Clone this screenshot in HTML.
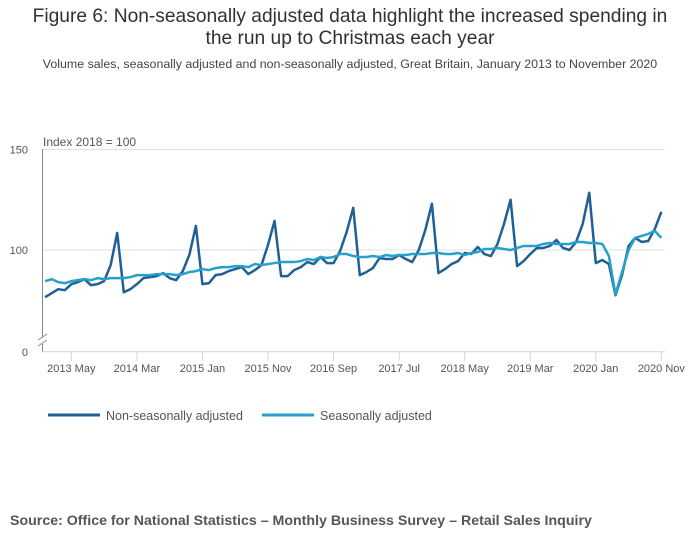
<!DOCTYPE html>
<html><head><meta charset="utf-8"><style>
body{margin:0;background:#fff;font-family:"Liberation Sans",sans-serif;}
#wrap{position:relative;width:700px;height:549px;overflow:hidden;}
.t{position:absolute;left:0;width:700px;text-align:center;color:#222;}
</style></head><body>
<div id="wrap">
<div class="t" style="top:6px;font-size:19.2px;line-height:22px;color:#323132;">Figure 6: Non-seasonally adjusted data highlight the increased spending in<br>the run up to Christmas each year</div>
<div class="t" style="top:57px;font-size:12.4px;color:#444;left:0;">Volume sales, seasonally adjusted and non-seasonally adjusted, Great Britain, January 2013 to November 2020</div>
<svg id="chart" width="700" height="549" style="position:absolute;left:0;top:0"></svg>
<div style="position:absolute;left:10px;top:513px;font-size:14.2px;font-weight:bold;color:#555;">Source: Office for National Statistics – Monthly Business Survey – Retail Sales Inquiry</div>
</div>
<script>
const yTicks=[150,100];
const xTickIdx=[4,14,24,34,44,54,64,74,84,94];
const xTickLabels=["2013 May","2014 Mar","2015 Jan","2015 Nov","2016 Sep","2017 Jul","2018 May","2019 Mar","2020 Jan","2020 Nov"];
const nsa=[76.5,78.5,80.5,80,83,84,85.5,82.5,83,84.5,92.5,108.5,
79,80.5,83,86,86.5,87,88.5,86,85,89.5,97.5,112,
83,83.5,87.5,88,89.5,90.5,91.5,88,90,92.5,102.5,114.5,
87,87,90,91.5,94,93,96.5,93.5,93.5,99.5,109,121,
87.5,89,91,96,95.5,95.5,97.5,95.5,94,100,110,123,
88.5,90.5,93,94.5,98.5,98,101.5,98,97,103,113,125,
92,94.5,98,101,101,102,105,101,100,104,113,128.5,
93.5,95,93,77.5,87.5,102,106,104,104.5,110.5,119];
const sa=[84.5,85.5,84,83.5,84.5,85,85.5,85,86,85.5,86,86,
86,86.5,87.5,87.5,87.5,88,88,88,87.5,88,89,89.5,
90.5,90,91,91.5,91.5,92,92,91.5,93,92.5,93,93.5,
94,94,94,94.5,95.5,95,96.5,96,96.5,98,98,97,
96.5,96.5,97,96.5,97.5,97,97.5,97.5,98,98,98,98.5,
98.5,98,98,98.5,97.5,98.5,99,100.5,100.5,101,100.5,100,
101,102,102,102,103,103.5,103,103,103,104,104,103.5,
103.5,103,97,78,89,100,106,107,108,109.5,106];
const NS='http://www.w3.org/2000/svg';
const svg=document.getElementById('chart');
const X=i=>45.1+i*6.556;
const Y=v=>250-(v-100)*2.01;
function mk(tag,attrs,parent){const e=document.createElementNS(NS,tag);for(const k in attrs)e.setAttribute(k,attrs[k]);(parent||svg).appendChild(e);return e;}
yTicks.forEach(v=>{
 const g=mk('line',{x1:42,x2:665,y1:Y(v),y2:Y(v),stroke:'#e0e0e0','stroke-width':1});
 
 
 const t=mk('text',{x:28,y:Y(v)+4,'font-size':11,fill:'#555','text-anchor':'end'});t.textContent=v;
 
 
});
const z=mk('text',{x:28,y:356,'font-size':11,fill:'#555','text-anchor':'end'});z.textContent='0';


const ya=mk('line',{x1:42.5,x2:42.5,y1:149,y2:337,stroke:'#888','stroke-width':1});


const ya2=mk('line',{x1:42.5,x2:42.5,y1:344,y2:352,stroke:'#888','stroke-width':1});


[337,343].forEach(yy=>{const b=mk('line',{x1:38,x2:47,y1:yy+3,y2:yy-3,stroke:'#888','stroke-width':1});

});
const xa=mk('line',{x1:42,x2:665,y1:351.7,y2:351.7,stroke:'#ccd6eb','stroke-width':1});


const yt=mk('text',{x:43,y:146,'font-size':12,fill:'#555'});yt.textContent='Index 2018 = 100';


xTickIdx.forEach((idx,k)=>{
 const tk=mk('line',{x1:X(idx),x2:X(idx),y1:352,y2:361,stroke:'#ccd6eb'});
 
 
 const t=mk('text',{x:X(idx),y:372,'font-size':11,fill:'#555','text-anchor':'middle'});t.textContent=xTickLabels[k];
 
 
});
function line(data,color,name){
 const p=mk('polyline',{points:data.map((v,i)=>X(i)+','+Y(v)).join(' '),fill:'none',stroke:color,'stroke-width':2.5,'stroke-linejoin':'round'});
 
 
}
line(nsa,'#206095','nsa-line');
line(sa,'#27a0cc','sa-line');
[[48,'#206095','Non-seasonally adjusted','legend-nsa'],[262,'#27a0cc','Seasonally adjusted','legend-sa']].forEach(([x,c,l,n])=>{
 const g=mk('g',{});
 
 
 mk('line',{x1:x,x2:x+52,y1:415,y2:415,stroke:c,'stroke-width':3},g);
 const t=mk('text',{x:x+58,y:420,'font-size':12.5,fill:'#555'},g);t.textContent=l;
});
</script>
</body></html>
